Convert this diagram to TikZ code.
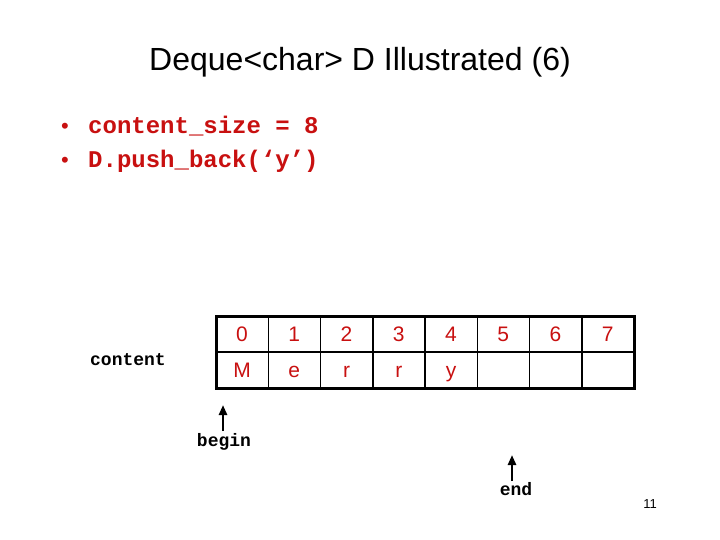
\documentclass[tikz,border=0pt]{standalone}
\usepackage{fontspec}
\setmainfont{Liberation Sans}
\newfontfamily\cour{Liberation Mono}
\usetikzlibrary{arrows.meta}
\definecolor{dred}{RGB}{200,16,16}
\begin{document}
\begin{tikzpicture}[x=1pt,y=-1pt,
  celltxt/.style={font=\fontsize{21}{24}\selectfont, text=dred, anchor=base, inner sep=0pt},
  codetxt/.style={font=\cour\bfseries\fontsize{18}{20}\selectfont, inner sep=0pt, anchor=base},
  bullettxt/.style={font=\cour\bfseries\fontsize{24}{26}\selectfont, text=dred, anchor=base west, inner sep=0pt},
  bulletdot/.style={font=\fontsize{22}{24}\selectfont, text=dred, anchor=base, inner sep=0pt},
  ptr/.style={line width=2.6pt, -{Triangle[width=8pt,length=10pt]}}]
\useasboundingbox (0,0) rectangle (720,540);
\node (title) at (360,62) {\fontsize{32}{36}\selectfont Deque<char> D Illustrated (6)};
\node[bulletdot] (d1) at (65,134) {\textbullet};
\node[bullettxt] (b1) at (88,134) {content\_size = 8};
\node[bulletdot] (d2) at (65,168) {\textbullet};
\node[bullettxt] (b2) at (88,168) {D.push\_back(‘y’)};
% grid
\draw[line width=1.5pt] (216,352) -- (634,352);
\foreach \i in {1,...,7} {
  \draw[line width=1.5pt] ({216+\i*52.25},316) -- ({216+\i*52.25},388);
}
\draw[line width=3pt] (216,316) rectangle (634,388);
\foreach \t [count=\i from 0] in {0,1,2,3,4,5,6,7} {
  \node[celltxt] (idx\i) at ({242+\i*52.25},341) {\t};
}
\foreach \t [count=\i from 0] in {M,e,r,r,y} {
  \node[celltxt] (val\i) at ({242+\i*52.25},377) {\t};
}
\node[codetxt] (content) at (128,365) {content};
\node[codetxt] (begin) at (224,446) {begin};
\node[codetxt] (end) at (516,495) {end};
\coordinate (bt) at (223,405);
\coordinate (et) at (512,455);
\draw[ptr] (223,431) -- (bt);
\draw[ptr] (512,481) -- (et);
\node (pg) at (650,504) {\fontsize{13}{15}\selectfont 11};
\end{tikzpicture}
\end{document}
